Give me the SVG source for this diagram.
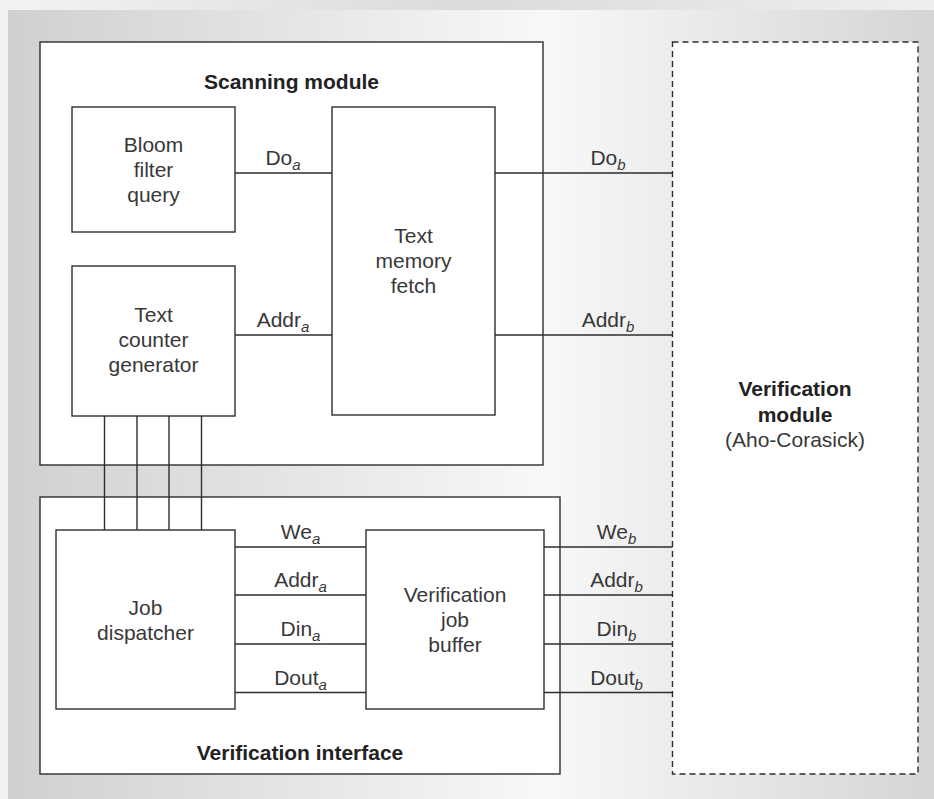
<svg xmlns="http://www.w3.org/2000/svg" width="934" height="799" viewBox="0 0 934 799">
<defs>
<linearGradient id="outer" x1="0" y1="0" x2="1" y2="0">
<stop offset="0" stop-color="#f3f3f4"/>
<stop offset="0.5" stop-color="#dadbdd"/>
<stop offset="1" stop-color="#eeeff0"/>
</linearGradient>
<linearGradient id="panel" x1="0" y1="0" x2="1" y2="0">
<stop offset="0" stop-color="#cfd0d2"/>
<stop offset="0.58" stop-color="#f8f8f8"/>
<stop offset="1" stop-color="#d4d5d7"/>
</linearGradient>
<style>
.box{fill:#fff;stroke:#2e2e2e;stroke-width:1.4}
.dash{fill:#fff;stroke:#2e2e2e;stroke-width:1.4;stroke-dasharray:6 4}
.ln{stroke:#2e2e2e;stroke-width:1.4;fill:none}
text{font-family:"Liberation Sans",Arial,sans-serif;font-size:21px;fill:#383838;text-anchor:middle}
.b{font-weight:bold;fill:#222}
.s{font-size:15px;font-style:italic}
</style>
</defs>
<rect x="0" y="0" width="934" height="799" fill="url(#outer)"/>
<rect x="8" y="10" width="926" height="789" fill="url(#panel)"/>

<g id="scanning-module">
<rect class="box" x="40" y="42" width="503" height="423"/>
<text class="b" x="291.5" y="89">Scanning module</text>
</g>
<g id="verification-interface">
<rect class="box" x="40" y="497" width="520" height="277"/>
<text class="b" x="300" y="760">Verification interface</text>
</g>
<g id="verification-module">
<rect class="dash" x="672.5" y="42" width="245.5" height="732"/>
<text class="b" x="795" y="396">Verification</text>
<text class="b" x="795" y="422">module</text>
<text x="795" y="447">(Aho-Corasick)</text>
</g>
<g id="bloom-filter-query">
<rect class="box" x="72" y="107" width="163" height="125"/>
<text x="153.5" y="152">Bloom</text>
<text x="153.5" y="177">filter</text>
<text x="153.5" y="202">query</text>
</g>
<g id="text-counter-generator">
<rect class="box" x="72" y="266" width="163" height="150"/>
<text x="153.5" y="322">Text</text>
<text x="153.5" y="347">counter</text>
<text x="153.5" y="372">generator</text>
</g>
<g id="text-memory-fetch">
<rect class="box" x="332" y="107" width="163" height="308"/>
<text x="413.5" y="243">Text</text>
<text x="413.5" y="268">memory</text>
<text x="413.5" y="293">fetch</text>
</g>
<g id="job-dispatcher">
<rect class="box" x="56" y="530" width="179" height="179"/>
<text x="145.5" y="615">Job</text>
<text x="145.5" y="640">dispatcher</text>
</g>
<g id="verification-job-buffer">
<rect class="box" x="366" y="530" width="178" height="179"/>
<text x="455" y="602">Verification</text>
<text x="455" y="627">job</text>
<text x="455" y="652">buffer</text>
</g>

<g id="connectors">
<path class="ln" d="M235 173H332M235 335H332M495 173H672.5M495 335H672.5"/>
<path class="ln" d="M104.5 416V530M137 416V530M169 416V530M201.5 416V530"/>
<path class="ln" d="M235 547H366M235 595H366M235 644H366M235 692.5H366"/>
<path class="ln" d="M544 547H672.5M544 595H672.5M544 644H672.5M544 692.5H672.5"/>
</g>
<g id="labels">
<text x="283" y="165">Do<tspan class="s" dy="5">a</tspan></text>
<text x="283" y="327">Addr<tspan class="s" dy="5">a</tspan></text>
<text x="608" y="165">Do<tspan class="s" dy="5">b</tspan></text>
<text x="608" y="327">Addr<tspan class="s" dy="5">b</tspan></text>
<text x="300.5" y="539">We<tspan class="s" dy="5">a</tspan></text>
<text x="300.5" y="587">Addr<tspan class="s" dy="5">a</tspan></text>
<text x="300.5" y="636">Din<tspan class="s" dy="5">a</tspan></text>
<text x="300.5" y="685">Dout<tspan class="s" dy="5">a</tspan></text>
<text x="616.5" y="539">We<tspan class="s" dy="5">b</tspan></text>
<text x="616.5" y="587">Addr<tspan class="s" dy="5">b</tspan></text>
<text x="616.5" y="636">Din<tspan class="s" dy="5">b</tspan></text>
<text x="616.5" y="685">Dout<tspan class="s" dy="5">b</tspan></text>
</g>
</svg>
